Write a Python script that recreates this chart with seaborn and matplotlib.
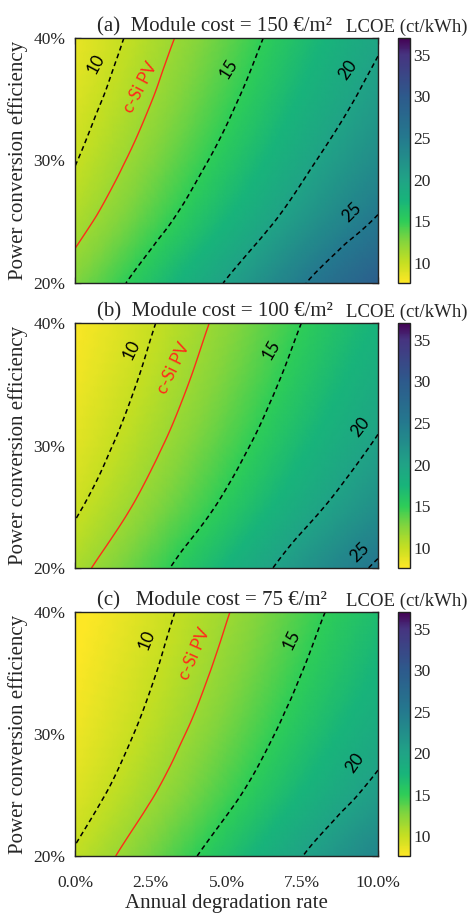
import numpy as np
import matplotlib
matplotlib.use("Agg")
import matplotlib.pyplot as plt
import matplotlib.tri as mtri
from matplotlib.colors import LinearSegmentedColormap
import seaborn as sns

# ---------------- data ----------------
degradation = [0, 2, 4, 6, 8, 10]          # annual degradation rate, %
efficiency = [20, 25, 30, 35, 40]          # power conversion efficiency, %

# LCOE (ct/kWh); rows = efficiency, columns = degradation
lcoe_150 = [
    [12.69, 15.46, 18.55, 21.95, 25.67, 29.19],
    [11.02, 13.42, 16.11, 19.07, 22.30, 25.35],
    [9.91, 12.07, 14.49, 17.14, 20.05, 22.79],
    [9.12, 11.10, 13.33, 15.77, 18.44, 20.97],
    [8.52, 10.38, 12.46, 14.74, 17.24, 19.60],
]
lcoe_100 = [
    [11.07, 13.48, 16.18, 19.15, 22.39, 25.46],
    [9.73, 11.85, 14.22, 16.83, 19.68, 22.37],
    [8.83, 10.75, 12.91, 15.28, 17.86, 20.31],
    [8.19, 9.98, 11.97, 14.17, 16.57, 18.84],
    [7.71, 9.39, 11.27, 13.34, 15.60, 17.73],
]
lcoe_75 = [
    [10.23, 12.46, 14.96, 17.70, 20.70, 23.53],
    [9.05, 11.02, 13.23, 15.66, 18.31, 20.82],
    [8.26, 10.06, 12.08, 14.30, 16.72, 19.00],
    [7.70, 9.38, 11.26, 13.32, 15.58, 17.71],
    [7.28, 8.87, 10.64, 12.59, 14.73, 16.74],
]
module_costs = [150, 100, 75]
panel_letters = ["(a)", "(b)", "(c)"]
contour_levels = [10, 15, 20, 25]
csi_level = 11.7
csi_label = "c-Si PV"
x_ticks = [0, 2.5, 5, 7.5, 10]
x_ticklabels = ["0.0%", "2.5%", "5.0%", "7.5%", "10.0%"]
y_ticks = [20, 30, 40]
y_ticklabels = ["20%", "30%", "40%"]
cbar_ticks = [10, 15, 20, 25, 30, 35]
cbar_range = (7.6, 37.0)

# colour scale anchors (value, colour) as seen on the reference colour bar
cmap_values = [7.6, 10, 12.5, 15, 17.5, 20, 25, 30, 35, 37]
cmap_colors = ["#fde725", "#c5df22", "#86d53c", "#2ecd58", "#18b47a",
               "#20a386", "#24798e", "#2d5a8c", "#463480", "#440154"]

# contour-label placement (text, x, y, rotation) per panel
labels_a = [("10", 0.69, 37.9, 62), (csi_label, 2.17, 36.0, 62),
            ("15", 5.06, 37.45, 58), ("20", 9.01, 37.4, 55), ("25", 9.15, 25.8, 45)]
labels_b = [("10", 1.87, 37.8, 64), (csi_label, 3.24, 36.3, 64),
            ("15", 6.49, 37.8, 60), ("20", 9.41, 31.5, 52), ("25", 9.41, 21.3, 45)]
labels_c = [("10", 2.37, 37.7, 68), (csi_label, 3.96, 36.6, 66),
            ("15", 7.15, 37.7, 64), ("20", 9.24, 27.65, 55)]

# ---------------- style ----------------
sns.set_style("ticks")
plt.rcParams["font.family"] = ["Liberation Serif", "DejaVu Serif"]
plt.rcParams["lines.dashed_pattern"] = [3.2, 2.2]

span = cbar_range[1] - cbar_range[0]
cmap = LinearSegmentedColormap.from_list(
    "lcoe", [((v - cbar_range[0]) / span, c) for v, c in zip(cmap_values, cmap_colors)])
sns.set_palette(sns.color_palette(cmap_colors))

W, H = 472, 913
fig = plt.figure(figsize=(W / 100, H / 100), dpi=100)


def rect(l, t, r, b):
    return [l / W, 1 - b / H, (r - l) / W, (b - t) / H]


panel_px = [(38, 283), (323, 568), (612, 856)]
datasets = [lcoe_150, lcoe_100, lcoe_75]
label_sets = [labels_a, labels_b, labels_c]
spaces = ["  ", "  ", "   "]

Xg, Yg = np.meshgrid(degradation, efficiency)
tri = mtri.Triangulation(Xg.ravel().astype(float), Yg.ravel().astype(float))
refiner = mtri.UniformTriRefiner(tri)
label_font = ["Lato", "DejaVu Sans"]
red = "#ff2a1a"

for i in range(3):
    top, bot = panel_px[i]
    z = np.asarray(datasets[i], dtype=float).ravel()
    interp = mtri.CubicTriInterpolator(tri, z, kind="geom")
    tri_f, z_f = refiner.refine_field(z, triinterpolator=interp, subdiv=4)

    ax = fig.add_axes(rect(75, top, 378, bot))
    pc = ax.tripcolor(tri_f, z_f, shading="gouraud", cmap=cmap,
                      vmin=cbar_range[0], vmax=cbar_range[1], rasterized=True)
    ax.tricontour(tri_f, z_f, levels=contour_levels, colors="black",
                  linewidths=1.1, linestyles="dashed")
    ax.tricontour(tri_f, z_f, levels=[csi_level], colors=red,
                  linewidths=1.0, linestyles="solid")

    for txt, lx, ly, rot in label_sets[i]:
        ax.text(lx, ly, txt, rotation=rot, ha="center", va="center",
                rotation_mode="anchor", fontsize=12.5, family=label_font,
                color=red if txt == csi_label else "black")

    ax.set_xlim(0, 10)
    ax.set_ylim(20, 40)
    ax.set_xticks(x_ticks)
    ax.set_yticks(y_ticks)
    ax.set_yticklabels(y_ticklabels)
    if i == 2:
        ax.set_xticklabels(x_ticklabels)
    else:
        ax.set_xticklabels([])
    ax.tick_params(axis="both", direction="in", top=True, right=True,
                   length=4, width=0.9, labelsize=12.5, color="#222222")
    ax.tick_params(axis="y", pad=7)
    ax.tick_params(axis="x", pad=14)
    for sp in ax.spines.values():
        sp.set_linewidth(1.0)
        sp.set_color("#222222")

    cax = fig.add_axes(rect(397.5, top, 410, bot))
    cb = fig.colorbar(pc, cax=cax, ticks=cbar_ticks)
    cb.outline.set_linewidth(1.0)
    cb.outline.set_edgecolor("#222222")
    cax.tick_params(direction="in", length=3.5, width=0.9, labelsize=12.5,
                    pad=2.5, color="#222222")

    fig.text(97 / W, 1 - (top - 6.5) / H,
             f"{panel_letters[i]}{spaces[i]}Module cost = {module_costs[i]} €/m²",
             fontsize=15, ha="left", va="baseline")
    fig.text(467 / W, 1 - (top - 6.5) / H, "LCOE (ct/kWh)",
             fontsize=13.5, ha="right", va="baseline")
    fig.text(18 / W, 1 - ((top + bot) / 2) / H, "Power conversion efficiency",
             rotation=90, ha="center", va="center", fontsize=15)

fig.text(226.5 / W, 1 - 908 / H, "Annual degradation rate",
         ha="center", va="baseline", fontsize=15)

fig.savefig("out.png", dpi=100)
